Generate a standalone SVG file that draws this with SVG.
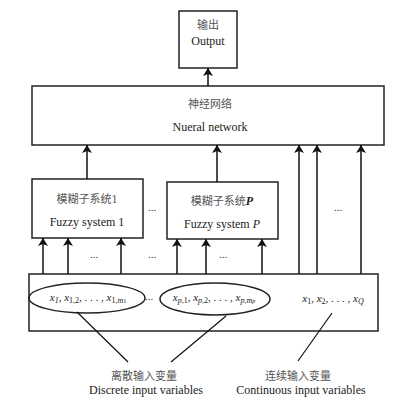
<svg xmlns="http://www.w3.org/2000/svg" width="403" height="405" viewBox="0 0 403 405">
<defs>
<marker id="ah" viewBox="0 0 8 10" refX="8" refY="5" markerWidth="8" markerHeight="10" markerUnits="userSpaceOnUse" orient="auto">
<path d="M0,0 L8,5 L0,10 L2,5 Z" fill="#111"/>
</marker>
</defs>
<style>
.box{fill:#fff;stroke:#222;stroke-width:1.5}
.cn{font-family:"Noto Sans CJK SC","Liberation Serif",serif;font-size:11px;fill:#555;text-anchor:middle}
.en{font-family:"Liberation Serif",serif;font-size:12px;fill:#222;text-anchor:middle}
.math{font-family:"Liberation Serif",serif;font-size:11px;font-style:italic;fill:#222;text-anchor:middle}
.sub{font-size:8px}
.dots{font-family:"Liberation Serif",serif;font-size:11px;fill:#333;text-anchor:middle}
.arr{stroke:#111;stroke-width:1.5;fill:none;marker-end:url(#ah)}
.ln{stroke:#111;stroke-width:1.2;fill:none}
</style>
<rect width="403" height="405" fill="#fff"/>
<g id="output">
<rect class="box" x="179" y="11" width="58" height="57"/>
<text class="cn" x="208" y="29">输出</text>
<text class="en" x="208" y="45">Output</text>
</g>
<g id="neural-network">
<rect class="box" x="32" y="86" width="352" height="59"/>
<text class="cn" x="210" y="108">神经网络</text>
<text class="en" x="210" y="131">Nueral network</text>
</g>
<g id="fuzzy1">
<rect class="box" x="32" y="179" width="111" height="59"/>
<text class="cn" x="87" y="203">模糊子系统<tspan font-family="Liberation Serif" font-size="12px">1</tspan></text>
<text class="en" x="87" y="226">Fuzzy system 1</text>
</g>
<g id="fuzzyP">
<rect class="box" x="167" y="182" width="111" height="57"/>
<text class="cn" x="222" y="205">模糊子系统<tspan font-family="Liberation Serif" font-size="12px" font-style="italic" font-weight="bold" fill="#222">P</tspan></text>
<text class="en" x="222" y="228">Fuzzy system <tspan font-style="italic">P</tspan></text>
</g>
<g id="inputs">
<rect class="box" x="29" y="274" width="349" height="57"/>
<ellipse cx="87" cy="298" rx="58" ry="15" fill="none" stroke="#222" stroke-width="1.5"/>
<ellipse cx="215" cy="299" rx="55" ry="16" fill="none" stroke="#222" stroke-width="1.5"/>
<text class="math" x="88" y="301">x<tspan class="sub" dy="2">1</tspan><tspan dy="-2" font-style="normal">, </tspan>x<tspan class="sub" dy="2" font-style="normal">1,2</tspan><tspan dy="-2" font-style="normal">, . . . , </tspan>x<tspan class="sub" dy="2"><tspan font-style="normal">1,</tspan>m<tspan font-size="6px" font-style="normal">1</tspan></tspan></text>
<text class="dots" x="149" y="300">...</text>
<text class="math" x="214" y="301">x<tspan class="sub" dy="2">p<tspan font-style="normal">,1</tspan></tspan><tspan dy="-2" font-style="normal">, </tspan>x<tspan class="sub" dy="2">p<tspan font-style="normal">,2</tspan></tspan><tspan dy="-2" font-style="normal">, . . . , </tspan>x<tspan class="sub" dy="2">p<tspan font-style="normal">,</tspan>m<tspan font-size="6px">p</tspan></tspan></text>
<text class="math" x="333" y="302">x<tspan class="sub" dy="2" font-style="normal">1</tspan><tspan dy="-2" font-style="normal">, </tspan>x<tspan class="sub" dy="2" font-style="normal">2</tspan><tspan dy="-2" font-style="normal">, . . . , </tspan>x<tspan class="sub" dy="2">Q</tspan></text>
</g>
<g id="discrete-label">
<text class="cn" x="144" y="380">离散输入变量</text>
<text class="en" x="146" y="394">Discrete input variables</text>
</g>
<g id="continuous-label">
<text class="cn" x="298" y="380">连续输入变量</text>
<text class="en" x="301" y="394">Continuous input variables</text>
</g>
<g id="connectors">
<line class="arr" x1="208" y1="86" x2="208" y2="68"/>
<line class="arr" x1="87" y1="179" x2="87" y2="145"/>
<line class="arr" x1="217" y1="182" x2="217" y2="145"/>
<line class="arr" x1="299" y1="274" x2="299" y2="145"/>
<line class="arr" x1="317" y1="274" x2="317" y2="145"/>
<line class="arr" x1="361" y1="274" x2="361" y2="145"/>
<line class="arr" x1="43" y1="274" x2="43" y2="238"/>
<line class="arr" x1="68" y1="274" x2="68" y2="238"/>
<line class="arr" x1="121" y1="274" x2="121" y2="238"/>
<line class="arr" x1="177" y1="274" x2="177" y2="239"/>
<line class="arr" x1="206" y1="274" x2="206" y2="239"/>
<line class="arr" x1="262" y1="274" x2="262" y2="239"/>
<line class="ln" x1="77" y1="312" x2="128" y2="362"/>
<line class="ln" x1="226" y1="316" x2="171" y2="362"/>
<line class="ln" x1="332" y1="313" x2="298" y2="361"/>
</g>
<g id="dots">
<text class="dots" x="152" y="211">...</text>
<text class="dots" x="338" y="211">...</text>
<text class="dots" x="94" y="258">...</text>
<text class="dots" x="152" y="258">...</text>
<text class="dots" x="223" y="258">...</text>
</g>
</svg>
